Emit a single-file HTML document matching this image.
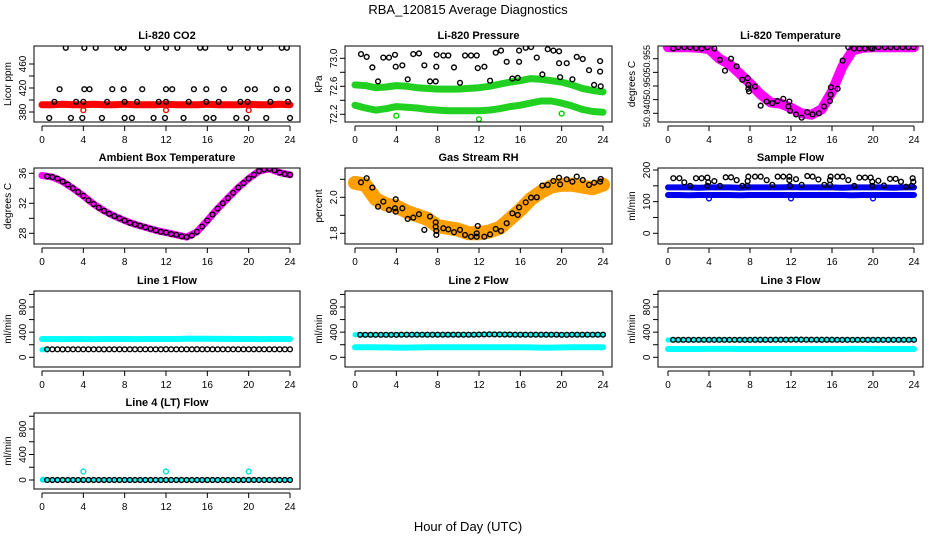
<!DOCTYPE html>
<html><head><meta charset="utf-8"><style>
html,body{margin:0;padding:0;background:#fff;}
svg{display:block;font-family:"Liberation Sans",sans-serif;}
</style></head><body>
<svg id="chart" width="936" height="540" viewBox="0 0 936 540" xmlns="http://www.w3.org/2000/svg">
<text x="468" y="14" text-anchor="middle" font-size="13">RBA_120815  Average Diagnostics</text>
<text x="468" y="531" text-anchor="middle" font-size="13">Hour of Day (UTC)</text>
</svg>
<script>
const hours=[0,1,2,3,4,5,6,7,8,9,10,11,12,13,14,15,16,17,18,19,20,21,22,23,24];
const halfHours=[0.5,1,1.5,2,2.5,3,3.5,4,4.5,5,5.5,6,6.5,7,7.5,8,8.5,9,9.5,10,10.5,11,11.5,12,12.5,13,13.5,14,14.5,15,15.5,16,16.5,17,17.5,18,18.5,19,19.5,20,20.5,21,21.5,22,22.5,23,23.5,24];
const xTicks=[0,4,8,12,16,20,24];

// CO2
const co2Band=[392,392,393,392,392,393,392,392,393,392,392,392,393,392,392,392,393,392,392,392,393,392,392,393,392];
const co2PtHr=[2.3,4.1,5.2,7.3,7.9,10.2,12.0,13.1,15.3,15.8,18.2,19.9,21.1,23.2,23.7,1.7,4.1,4.6,6.8,7.9,9.7,12.0,12.6,14.7,15.9,17.6,19.9,20.6,22.7,23.8,1.2,3.3,4.0,6.3,8.0,9.2,11.3,12.0,14.2,15.9,17.1,19.2,19.9,22.1,23.8,0.7,2.8,3.9,5.8,8.0,8.7,10.8,11.9,13.7,15.9,16.6,18.8,19.8,21.7,24.0];
const co2PtVal=[487,487,487,487,487,487,487,487,487,487,487,487,487,487,487,418,418,418,418,418,418,418,418,418,418,418,418,418,418,418,397,397,397,397,397,397,397,397,397,397,397,397,397,397,397,370,370,370,370,370,370,370,370,370,370,370,370,370,370,370];
const co2RedHr=[4,12,20];
const co2RedVal=[383,383,383];

// Pressure
const presUpper=[72.62,72.61,72.58,72.59,72.61,72.60,72.58,72.57,72.56,72.56,72.56,72.57,72.58,72.60,72.63,72.66,72.68,72.71,72.70,72.68,72.66,72.62,72.57,72.54,72.52];
const presLower=[72.33,72.29,72.26,72.28,72.31,72.30,72.29,72.27,72.26,72.25,72.25,72.25,72.25,72.26,72.28,72.31,72.33,72.36,72.39,72.39,72.36,72.32,72.27,72.24,72.23];
const presPtHr=[0.58,1.13,1.68,2.23,2.74,3.29,3.87,3.94,4.58,5.1,5.64,6.19,6.71,7.26,7.81,7.9,7.87,8.55,9.03,9.58,10.16,10.65,11.23,11.78,11.88,12.52,13.07,13.62,14.13,14.68,15.23,15.75,15.88,15.88,16.52,17.04,17.59,18.13,18.65,19.2,19.75,19.75,19.85,20.49,21.04,21.46,22.04,22.65,23.14,23.72,23.72,23.78];
const presPtVal=[73.06,73.02,72.87,72.67,73.01,73.01,73.05,72.88,72.90,72.70,73.06,73.07,72.90,72.67,72.67,73.05,72.88,73.04,73.04,72.87,72.65,73.04,73.04,73.04,72.86,72.88,72.68,73.08,73.11,72.95,72.71,72.72,72.95,73.11,73.15,73.16,73.01,72.77,73.13,73.11,73.10,72.93,72.73,72.93,72.70,73.02,72.99,72.83,72.62,72.81,72.96,72.60];
const presGreenHr=[4,12,20];
const presGreenVal=[72.18,72.13,72.21];

// Li-820 temperature
const tempBand=[50.9642,50.9642,50.9642,50.9640,50.9635,50.9600,50.9580,50.9545,50.9510,50.9470,50.9440,50.9435,50.9420,50.9400,50.9395,50.9415,50.9480,50.9570,50.9630,50.9640,50.9642,50.9642,50.9642,50.9642,50.9642];
const tempPtHr=[0.52,1.0,1.59,2.15,2.73,3.28,3.84,4.52,5.07,5.56,6.15,6.70,7.25,7.77,7.84,7.84,7.90,8.49,9.04,9.63,10.18,10.67,11.25,11.84,11.74,11.90,12.49,13.04,13.59,14.11,14.73,15.22,15.80,15.87,15.9,16.55,17.04,17.59,18.15,18.67,19.22,19.77,19.93,20.52,21.17,21.72,22.31,22.89,23.46,23.95];
const tempPtVal=[50.9637,50.9642,50.9642,50.9642,50.9639,50.9637,50.9642,50.9637,50.9596,50.9556,50.9600,50.9572,50.9523,50.9529,50.9504,50.9490,50.9480,50.9498,50.9428,50.9443,50.9437,50.9445,50.9453,50.9443,50.9425,50.9409,50.9396,50.9384,50.9404,50.9396,50.9400,50.9425,50.9445,50.9468,50.9495,50.9490,50.9593,50.9642,50.9637,50.9637,50.9637,50.9639,50.9637,50.9642,50.9642,50.9642,50.9642,50.9642,50.9642,50.9642];

// Ambient box temperature
const ambBand=[35.7,35.5,34.9,34.0,33.0,31.9,31.0,30.3,29.7,29.2,28.8,28.4,28.1,27.8,27.5,28.2,29.7,31.3,32.7,34.1,35.3,36.3,36.6,36.1,35.8];
const ambPt=[35.6,35.5,35.3,34.9,34.5,34.0,33.5,33.0,32.4,31.9,31.4,31.0,30.6,30.3,30.0,29.7,29.4,29.2,29.0,28.8,28.6,28.4,28.2,28.1,27.9,27.8,27.6,27.5,27.7,28.2,28.9,29.7,30.5,31.3,32.0,32.7,33.4,34.1,34.7,35.3,35.8,36.3,36.5,36.6,36.4,36.1,35.9,35.8];

// Gas stream RH
const rhBand=[2.08,2.07,1.99,1.96,1.95,1.92,1.90,1.88,1.84,1.83,1.82,1.80,1.80,1.81,1.83,1.88,1.93,1.99,2.03,2.06,2.07,2.07,2.06,2.05,2.07];
const rhPtHr=[0.58,1.13,1.68,2.23,2.74,3.29,3.87,3.94,3.94,4.58,5.10,5.64,6.19,6.71,7.26,7.81,7.81,7.87,7.87,8.55,9.03,9.58,10.16,10.65,11.23,11.78,11.78,11.88,12.52,13.07,13.62,14.13,14.68,15.23,15.75,15.88,16.52,17.04,17.59,18.13,18.65,19.2,19.75,19.85,20.49,21.04,21.46,22.04,22.65,23.14,23.72,23.78];
const rhPtVal=[2.083,2.106,2.054,1.948,1.976,1.930,1.939,1.989,1.920,1.939,1.880,1.887,1.906,1.819,1.893,1.861,1.837,1.813,1.791,1.828,1.822,1.806,1.819,1.791,1.781,1.800,1.781,1.841,1.781,1.794,1.824,1.813,1.856,1.911,1.902,1.944,1.972,1.998,2.000,2.065,2.069,2.091,2.109,2.072,2.100,2.087,2.115,2.096,2.069,2.081,2.087,2.102];

// Sample flow
const sfUpper=[145,145,145,144,145,145,145,144,145,145,145,145,146,145,145,145,145,144,145,145,145,145,144,145,145];
const sfLower=[121,121,120,121,121,121,121,120,121,121,121,121,121,121,121,121,121,121,120,121,121,121,121,121,121];
const sfPtHr=[0.52,1.11,1.59,2.15,2.73,3.28,3.84,3.84,3.93,4.52,5.07,5.63,6.15,6.70,7.25,7.74,7.77,7.84,8.49,9.04,9.63,10.18,10.7,11.25,11.84,11.84,11.9,12.49,13.04,13.59,14.11,14.67,15.25,15.8,15.8,15.87,16.52,17.04,17.59,18.18,18.67,19.22,19.77,19.93,19.93,20.52,21.07,21.66,22.21,22.73,23.22,23.77,23.87,23.93];
const sfPtVal=[174,174,161,150,174,174,176,150,161,165,150,177,177,168,150,150,165,179,179,179,168,153,179,179,179,168,150,171,153,181,179,170,153,153,168,179,179,179,168,150,176,176,176,163,150,166,151,172,172,163,147,150,174,163];
const sfBlueHr=[4,12,20];
const sfBlueVal=[110,110,110];

// Line flows
const l1Upper=[291,291,290,291,291,290,291,291,291,290,291,291,291,291,295,296,295,293,292,291,291,290,291,291,291];
const l1Lower=[120,120];
const l1LowerHr=[0,0.4];
const l1Pt=[127,127,127,126,127,127,127,127,127,127,127,126,127,127,127,127,127,127,127,127,127,127,127,128,127,127,127,127,127,128,127,127,127,127,127,127,127,127,127,127,127,127,127,127,127,127,127,127];
const l2Upper=[360,360,360,360,358,360,360,360,360,360,360,360,362,365,364,362,360,360,360,360,358,360,360,360,360];
const l2Lower=[159,159,159,158,155,155,157,159,159,159,159,159,159,159,159,159,159,158,155,155,158,159,159,159,159];
const l2Pt=[358,358,358,358,358,358,358,358,360,360,360,360,360,360,360,360,360,360,360,360,360,360,360,362,364,365,364,363,362,362,360,360,360,360,360,360,360,360,360,358,358,360,360,360,360,360,360,360];
const l3Upper=[275,275,275,276,276,276,276,276,276,278,280,282,284,282,280,278,276,276,276,276,276,276,276,276,276];
const l3Lower=[132,132,132,132,133,133,133,132,132,132,132,132,132,132,132,132,132,132,133,133,132,132,132,132,132];
const l3Pt=[278,278,278,278,278,278,278,278,278,278,278,278,278,278,278,278,279,279,279,279,280,280,280,280,281,281,280,280,279,279,279,279,278,278,278,278,278,278,278,278,278,278,278,278,278,278,278,278];
const l4Upper=[2,2,2,2,2,2,2,2,2,2,2,2,2,2,2,2,2,2,2,2,2,2,2,2,2];
const l4Pt=[0,0,0,0,0,0,0,0,0,0,0,0,0,0,0,0,0,0,0,0,0,0,0,0,0,0,0,0,0,0,0,0,0,0,0,0,0,0,0,0,0,0,0,0,0,0,0,0];
const l4CyanHr=[0.1,4,12,20];
const l4CyanVal=[5,133,133,133];

const svg=document.getElementById('chart');
const NS='http://www.w3.org/2000/svg';
function mk(tag,attrs,parent){const e=document.createElementNS(NS,tag);for(const k in attrs)e.setAttribute(k,attrs[k]);(parent||svg).appendChild(e);return e;}

const cols=[{l:34,r:300,x0:42,x24:290},{l:345,r:612,x0:355,x24:603},{l:658,r:923,x0:668,x24:914}];
const rows=[{t:46,b:122},{t:168,b:244},{t:291,b:367},{t:413,b:489}];

function panel(id,ci,ri,title,ylab,yv0,yp0,yv1,yp1,ticks,labels,lfs){
  const c=cols[ci],r=rows[ri];
  const g=mk('g',{});
  
  
  const sx=h=>c.x0+(c.x24-c.x0)*h/24;
  const sy=v=>yp0+(v-yv0)*(yp1-yp0)/(yv1-yv0);
  const cp=mk('clipPath',{id:'clip-'+id},g);
  mk('rect',{x:c.l,y:r.t,width:c.r-c.l,height:r.b-r.t},cp);
  const plot=mk('g',{'clip-path':'url(#clip-'+id+')'},g);
  
  
  const box=mk('rect',{x:c.l,y:r.t,width:c.r-c.l,height:r.b-r.t,fill:'none',stroke:'#000','stroke-width':1},g);
  
  
  const t=mk('text',{x:(c.l+c.r)/2,y:r.t-7,'text-anchor':'middle','font-size':11,'font-weight':'bold'},g);
  t.textContent=title;
  
  
  const yl=mk('text',{x:0,y:0,'text-anchor':'middle','font-size':10,transform:'translate('+(c.l-23)+','+((r.t+r.b)/2)+') rotate(-90)'},g);
  yl.textContent=ylab;
  
  
  const ax=mk('g',{},g);
  
  
  mk('line',{x1:sx(0),x2:sx(24),y1:r.b+4,y2:r.b+4,stroke:'#000'},ax);
  xTicks.forEach(h=>{
    mk('line',{x1:sx(h),x2:sx(h),y1:r.b+4,y2:r.b+9,stroke:'#000'},ax);
    const tl=mk('text',{x:sx(h),y:r.b+21,'text-anchor':'middle','font-size':10},ax);
    tl.textContent=h;
    
    
  });
  const ay=mk('g',{},g);
  
  
  ticks.forEach((v,i)=>{
    const y=sy(v);
    mk('line',{x1:c.l-5,x2:c.l,y1:y,y2:y,stroke:'#000'},ay);
    if(labels[i]){
      const tl=mk('text',{x:0,y:0,'text-anchor':'middle','font-size':lfs||10,transform:'translate('+(c.l-8)+','+y+') rotate(-90)'},ay);
      tl.textContent=labels[i];
      
      
    }
  });
  return {plot,sx,sy};
}
function band(P,xs,vs,color,w,name){
  const pts=xs.map((h,i)=>P.sx(h).toFixed(1)+','+P.sy(vs[i]).toFixed(1)).join(' ');
  const e=mk('polyline',{points:pts,fill:'none',stroke:color,'stroke-width':w,'stroke-linejoin':'round','stroke-linecap':'round'},P.plot);
  
  
}
function pts(P,xs,vs,color,name){
  xs.forEach((h,i)=>{
    const e=mk('circle',{cx:P.sx(h),cy:P.sy(vs[i]),r:2.4,fill:'none',stroke:color,'stroke-width':1.4},P.plot);
    
    
  });
}

let P;
P=panel('co2',0,0,'Li-820 CO2','Licor ppm',380,112,460,64,[380,400,420,440,460],['380','','420','','460']);
band(P,hours,co2Band,'#ff0000',7,'co2-band');
pts(P,co2RedHr,co2RedVal,'#ff0000','co2-red-point');
pts(P,co2PtHr,co2PtVal,'#000','co2-point');

P=panel('pressure',1,0,'Li-820 Pressure','kPa',72.2,114.3,73.0,58.3,[72.2,72.4,72.6,72.8,73.0],['72.2','','72.6','','73.0']);
band(P,hours,presUpper,'#22d022',7,'pressure-band-upper');
band(P,hours,presLower,'#22d022',7,'pressure-band-lower');
pts(P,presGreenHr,presGreenVal,'#00cc00','pressure-green-point');
pts(P,presPtHr,presPtVal,'#000','pressure-point');

P=panel('li820-temp',2,0,'Li-820 Temperature','degrees C',50.940,113.3,50.960,58.7,[50.940,50.945,50.950,50.955,50.960],['50.940','','50.950','','50.955'],9);
band(P,hours,tempBand,'#ff00ff',10,'li820-temp-band');
pts(P,tempPtHr,tempPtVal,'#000','li820-temp-point');

P=panel('ambient',0,1,'Ambient Box Temperature','degrees C',28,233.3,36,173.3,[28,30,32,34,36],['28','','32','','36']);
band(P,hours,ambBand,'#ff00ff',7,'ambient-band');
pts(P,halfHours,ambPt,'#000','ambient-point');

P=panel('rh',1,1,'Gas Stream RH','percent',1.8,233.3,2.0,197.3,[1.8,1.9,2.0,2.1],['1.8','','2.0','']);
band(P,hours,rhBand,'#ffa000',14,'rh-band');
pts(P,rhPtHr,rhPtVal,'#000','rh-point');

P=panel('sample-flow',2,1,'Sample Flow','ml/min',0,233.3,200,170,[0,50,100,150,200],['0','','100','','200']);
band(P,hours,sfUpper,'#0000ee',6,'sample-flow-band-upper');
band(P,hours,sfLower,'#0000ee',6,'sample-flow-band-lower');
pts(P,sfBlueHr,sfBlueVal,'#0000ee','sample-flow-blue-point');
pts(P,sfPtHr,sfPtVal,'#000','sample-flow-point');

const flowTicks=[0,200,400,600,800,1000];
const flowLabels=['0','','400','','800',''];
P=panel('line1',0,2,'Line 1 Flow','ml/min',0,357.3,800,307,flowTicks,flowLabels);
band(P,hours,l1Upper,'#00ffff',6,'line1-band');
band(P,l1LowerHr,l1Lower,'#00ffff',5,'line1-band-lower');
pts(P,halfHours,l1Pt,'#000','line1-point');

P=panel('line2',1,2,'Line 2 Flow','ml/min',0,357.3,800,307,flowTicks,flowLabels);
band(P,hours,l2Upper,'#00ffff',5,'line2-band-upper');
band(P,hours,l2Lower,'#00ffff',6,'line2-band-lower');
pts(P,halfHours,l2Pt,'#000','line2-point');

P=panel('line3',2,2,'Line 3 Flow','ml/min',0,357.3,800,307,flowTicks,flowLabels);
band(P,hours,l3Upper,'#00ffff',5,'line3-band-upper');
band(P,hours,l3Lower,'#00ffff',6,'line3-band-lower');
pts(P,halfHours,l3Pt,'#000','line3-point');

P=panel('line4',0,3,'Line 4 (LT) Flow','ml/min',0,480,800,429,flowTicks,flowLabels);
band(P,hours,l4Upper,'#00ffff',4,'line4-band');
pts(P,l4CyanHr,l4CyanVal,'#00e0e0','line4-cyan-point');
pts(P,halfHours,l4Pt,'#000','line4-point');
</script>
</body></html>
